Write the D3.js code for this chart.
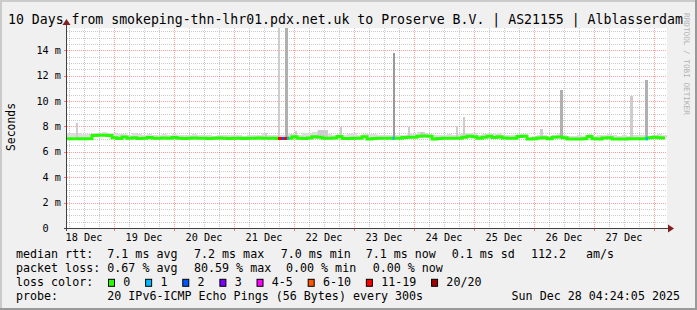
<!DOCTYPE html>
<html>
<head>
<meta charset="utf-8">
<script src="https://cdn.jsdelivr.net/npm/d3@7"></script>
<style>
  body { margin: 0; background: #fff; }
  svg { display: block; font-family: "DejaVu Sans Mono", monospace; }
</style>
</head>
<body>
<div class="chart"></div>
<script>
// ---- data ----
var title = "10 Days from smokeping-thn-lhr01.pdx.net.uk to Proserve B.V. | AS21155 | Alblasserdam";
var startTime = Date.UTC(2025, 11, 18, 5, 12);
var endTime = Date.UTC(2025, 11, 28, 5, 12);
var binHours = 2;

// median rtt in ms, one value per 2 hour bin
var medianMs = [
  7.02, 7.02, 7.02, 7.03, 7.03, 7.28, 7.30, 7.30, 7.28, 7.10,
  7.04, 7.16, 7.06, 7.10, 7.05, 7.06, 7.12, 7.06, 7.06, 7.08,
  7.06, 7.12, 7.06, 7.05, 7.06, 7.08, 7.06, 7.06, 7.05, 7.06,
  7.08, 7.06, 7.05, 7.06, 7.06, 7.05, 7.06, 7.06, 7.08, 7.06,
  7.06, 7.06, 7.05, 7.05, 7.06, 7.18, 7.06, 7.05, 7.08, 7.18,
  7.15, 7.06, 7.06, 7.08, 7.20, 7.04, 7.05, 7.06, 7.06, 7.18,
  7.00, 7.04, 7.06, 7.06, 7.06, 7.06, 7.06, 7.12, 7.14, 7.14,
  7.22, 7.24, 7.22, 7.00, 7.05, 7.06, 7.06, 7.06, 7.06, 7.14,
  7.22, 7.18, 7.06, 7.14, 7.22, 7.12, 7.18, 7.08, 7.06, 7.06,
  7.20, 7.22, 7.00, 7.02, 7.08, 7.10, 7.02, 7.14, 7.16, 7.10,
  7.01, 7.01, 7.01, 7.02, 7.20, 7.02, 7.01, 7.08, 7.10, 7.01,
  7.01, 7.01, 7.03, 7.03, 7.03, 7.03, 7.10, 7.14, 7.10, 7.08
];

// highest ping of the bin (smoke top), ms
var smokeHiMs = [
  7.45, 7.45, 7.45, 7.42, 7.40, 7.50, 7.50, 7.52, 7.50, 7.45,
  7.38, 7.42, 7.35, 7.45, 7.38, 7.35, 7.40, 7.30, 7.35, 7.40,
  7.30, 7.38, 7.30, 7.35, 7.32, 7.40, 7.30, 7.35, 7.30, 7.28,
  7.35, 7.30, 7.30, 7.32, 7.30, 7.28, 7.30, 7.35, 7.30, 7.48,
  7.30, 7.35, 7.30, 7.30, 7.40, 7.42, 7.35, 7.45, 7.50, 7.55,
  7.60, 7.45, 7.40, 7.35, 7.40, 7.35, 7.38, 7.45, 7.35, 7.40,
  7.40, 7.40, 7.30, 7.30, 7.35, 7.30, 7.30, 7.35, 7.45, 7.40,
  7.55, 7.45, 7.40, 7.30, 7.30, 7.30, 7.40, 7.35, 7.40, 7.45,
  7.50, 7.50, 7.35, 7.40, 7.45, 7.40, 7.45, 7.30, 7.32, 7.35,
  7.38, 7.40, 7.20, 7.28, 7.30, 7.35, 7.25, 7.30, 7.38, 7.30,
  7.25, 7.22, 7.30, 7.22, 7.40, 7.25, 7.30, 7.35, 7.40, 7.30,
  7.25, 7.30, 7.25, 7.30, 7.30, 7.30, 7.28, 7.35, 7.40, 7.30
];

// short bursts of slow pings: [start hour, end hour, top ms, pings]
var spikes = [
  [3.6, 4.4, 8.30, 1],
  [79.2, 80.0, 7.50, 1],
  [84.4, 85.2, 16.0, 1],
  [87.0, 88.2, 16.0, 2],
  [91.2, 92.0, 7.65, 1],
  [100.4, 104.4, 7.72, 1],
  [109.0, 110.0, 7.98, 1],
  [130.2, 131.0, 13.8, 3],
  [136.4, 137.2, 7.98, 1],
  [141.2, 143.2, 7.58, 1],
  [155.6, 156.4, 8.03, 1],
  [158.4, 159.2, 8.72, 1],
  [189.2, 190.4, 7.80, 1],
  [197.2, 198.4, 10.87, 2],
  [225.2, 226.4, 10.40, 1],
  [231.2, 232.4, 11.65, 2]
];

// packet loss: [start hour, end hour, lost pings of 20]
var lossEvents = [
  [84.4, 86.0, 16],
  [86.0, 86.8, 2],
  [86.8, 88.0, 14],
  [88.0, 88.8, 1],
  [130.2, 131.0, 1],
  [231.4, 232.4, 1]
];

var yTicks = [0, 2, 4, 6, 8, 10, 12, 14];
var lossLabels = ["0", "1", "2", "3", "4-5", "6-10", "11-19", "20/20"];
var lossColors = ["#26ff00", "#00b8ff", "#0059ff", "#7e00ff", "#ff00ff", "#ff5500", "#ff0000", "#a00000"];
var rttStats = ["7.1 ms avg", "7.2 ms max", "7.0 ms min", "7.1 ms now", "0.1 ms sd", "112.2", "am/s"];
var lossStats = ["0.67 % avg", "80.59 % max", "0.00 % min", "0.00 % now"];
var probeText = "20 IPv6-ICMP Echo Pings (56 Bytes) every 300s";
var stampText = "Sun Dec 28 04:24:05 2025";

// ---- layout ----
var W = 697, H = 310;
var plot = {left: 67, top: 28, width: 600, height: 200};

var svg = d3.select(".chart").append("svg")
  .attr("width", W)
  .attr("height", H);

// background + 3d frame
svg.append("rect").attr("width", W).attr("height", H).attr("fill", "#f0f0f0");
svg.append("rect").attr("x", 0).attr("y", 0).attr("width", W).attr("height", 2).attr("fill", "#cbcbcb");
svg.append("rect").attr("x", 0).attr("y", 0).attr("width", 2).attr("height", H).attr("fill", "#cbcbcb");
svg.append("rect").attr("x", 0).attr("y", H - 2).attr("width", W).attr("height", 2).attr("fill", "#999");
svg.append("rect").attr("x", W - 2).attr("y", 0).attr("width", 2).attr("height", H).attr("fill", "#999");

svg.append("rect")
  .attr("x", plot.left).attr("y", plot.top)
  .attr("width", plot.width).attr("height", plot.height)
  .attr("fill", "#fff");

var xScale = d3.scaleUtc()
  .domain([new Date(startTime), new Date(endTime)])
  .range([plot.left, plot.left + plot.width]);

var yScale = d3.scaleLinear()
  .domain([0, plot.height / 12.7])
  .range([plot.top + plot.height, plot.top]);

function hourToDate(h) { return new Date(startTime + h * 3600e3); }
function xh(h) { return xScale(hourToDate(h)); }
function medianAt(h) { return medianMs[Math.min(medianMs.length - 1, Math.floor(h / binHours))]; }

// grid
var grid = svg.append("g").attr("class", "grid");
var minorY = d3.range(0.5, yScale.domain()[1], 0.5).filter(function(v){ return v % 2 !== 0; });
var majorY = yTicks.filter(function(v){ return v > 0; });
var minorX = xScale.ticks(d3.utcHour.every(6)).filter(function(d){ return d.getUTCHours() !== 0; });
var majorX = xScale.ticks(d3.utcDay.every(1));

grid.selectAll("line.hmin").data(minorY).enter().append("line")
  .attr("x1", plot.left).attr("x2", plot.left + plot.width)
  .attr("y1", function(d){ return Math.round(yScale(d)) + 0.5; })
  .attr("y2", function(d){ return Math.round(yScale(d)) + 0.5; })
  .attr("stroke", "rgba(140,140,140,0.45)").attr("stroke-dasharray", "1,1");
grid.selectAll("line.vmin").data(minorX).enter().append("line")
  .attr("y1", plot.top).attr("y2", plot.top + plot.height)
  .attr("x1", function(d){ return Math.round(xScale(d)) + 0.5; })
  .attr("x2", function(d){ return Math.round(xScale(d)) + 0.5; })
  .attr("stroke", "rgba(140,140,140,0.45)").attr("stroke-dasharray", "1,1");
grid.selectAll("line.hmaj").data(majorY).enter().append("line")
  .attr("x1", plot.left).attr("x2", plot.left + plot.width)
  .attr("y1", function(d){ return Math.round(yScale(d)) + 0.5; })
  .attr("y2", function(d){ return Math.round(yScale(d)) + 0.5; })
  .attr("stroke", "rgba(255,0,0,0.38)").attr("stroke-dasharray", "1,1");
grid.selectAll("line.vmaj").data(majorX).enter().append("line")
  .attr("y1", plot.top).attr("y2", plot.top + plot.height)
  .attr("x1", function(d){ return Math.round(xScale(d)) + 0.5; })
  .attr("x2", function(d){ return Math.round(xScale(d)) + 0.5; })
  .attr("stroke", "rgba(255,0,0,0.38)").attr("stroke-dasharray", "1,1");

// smoke
var plotArea = svg.append("g");
plotArea.selectAll("rect.smoke").data(medianMs).enter().append("rect")
  .attr("x", function(d, i){ return xh(i * binHours); })
  .attr("width", function(d, i){ return xh((i + 1) * binHours) - xh(i * binHours); })
  .attr("y", function(d, i){ return yScale(smokeHiMs[i]); })
  .attr("height", function(d, i){ return yScale(d) - yScale(smokeHiMs[i]); })
  .attr("fill", "#dcdcdc")
  .attr("shape-rendering", "crispEdges");

var spikeShade = ["#ffffff", "#cdcdcd", "#b0b0b0", "#9a9a9a"];
plotArea.selectAll("rect.spike").data(spikes).enter().append("rect")
  .attr("x", function(d){ return xh(d[0]); })
  .attr("width", function(d){ return xh(d[1]) - xh(d[0]); })
  .attr("y", function(d){ return Math.max(plot.top, yScale(d[2])); })
  .attr("height", function(d){ return yScale(medianAt(d[0])) - Math.max(plot.top, yScale(d[2])); })
  .attr("fill", function(d){ return spikeShade[d[3]]; })
  .attr("shape-rendering", "crispEdges");

// median line coloured by loss
var stepLine = d3.line()
  .x(function(d){ return xh(d[0]); })
  .y(function(d){ return yScale(d[1]); })
  .curve(d3.curveStepAfter);

var medPts = medianMs.map(function(v, i){ return [i * binHours, v]; });
medPts.push([medianMs.length * binHours - 0.8, medianMs[medianMs.length - 1]]);

plotArea.append("path")
  .attr("d", stepLine(medPts))
  .attr("fill", "none")
  .attr("stroke", lossColors[0])
  .attr("stroke-width", 3);

function lossClass(n) {
  if (n <= 3) return n;
  if (n <= 5) return 4;
  if (n <= 10) return 5;
  if (n <= 19) return 6;
  return 7;
}
plotArea.selectAll("line.loss").data(lossEvents).enter().append("line")
  .attr("x1", function(d){ return xh(d[0]); })
  .attr("x2", function(d){ return xh(d[1]); })
  .attr("y1", function(d){ return yScale(medianAt(d[0])); })
  .attr("y2", function(d){ return yScale(medianAt(d[0])); })
  .attr("stroke", function(d){ return lossColors[lossClass(d[2])]; })
  .attr("stroke-width", 3);

// axes
var axisCol = "#404040", arrowCol = "#7f1f1f";
var y0 = plot.top + plot.height;
svg.append("line").attr("x1", plot.left - 3).attr("x2", plot.left + plot.width + 2)
  .attr("y1", y0 + 0.5).attr("y2", y0 + 0.5).attr("stroke", axisCol);
svg.append("line").attr("x1", plot.left - 0.5).attr("x2", plot.left - 0.5)
  .attr("y1", y0 + 3).attr("y2", plot.top - 4).attr("stroke", axisCol);
svg.append("path")
  .attr("d", "M" + (plot.left + plot.width + 1) + "," + (y0 - 3.5) + "l6,4l-6,4z")
  .attr("fill", arrowCol);
svg.append("path")
  .attr("d", "M" + (plot.left - 4.5) + "," + (plot.top - 3) + "l4,-6l4,6z")
  .attr("fill", arrowCol);

// axis ticks
svg.selectAll("line.xtmaj").data(majorX).enter().append("line")
  .attr("x1", function(d){ return Math.round(xScale(d)) + 0.5; })
  .attr("x2", function(d){ return Math.round(xScale(d)) + 0.5; })
  .attr("y1", y0 + 1).attr("y2", y0 + 3)
  .attr("stroke", "rgba(255,0,0,0.5)");
svg.selectAll("line.ytmaj").data(majorY).enter().append("line")
  .attr("x1", plot.left - 3).attr("x2", plot.left)
  .attr("y1", function(d){ return Math.round(yScale(d)) + 0.5; })
  .attr("y2", function(d){ return Math.round(yScale(d)) + 0.5; })
  .attr("stroke", "rgba(255,0,0,0.5)");

// tick labels
svg.selectAll("text.ylab").data(yTicks).enter().append("text")
  .attr("x", 61)
  .attr("y", function(d){ return yScale(d); })
  .attr("dy", "0.36em")
  .attr("text-anchor", "end")
  .attr("font-size", "10.2px")
  .attr("fill", "#000")
  .text(function(d){ return d === 0 ? "0\u00a0\u00a0" : d + " m"; });

var labelDays = d3.utcDay.range(d3.utcDay.floor(new Date(startTime)), new Date(endTime))
  .filter(function(d){ return +d + 12 * 3600e3 > startTime && +d + 12 * 3600e3 < endTime; });
var fmt = d3.utcFormat("%d %b");
svg.selectAll("text.xlab").data(labelDays).enter().append("text")
  .attr("x", function(d){ return xScale(new Date(+d + 12 * 3600e3)); })
  .attr("y", 241)
  .attr("text-anchor", "middle")
  .attr("font-size", "10.2px")
  .text(function(d){ return fmt(d); });

// titles
svg.append("text").attr("x", 8).attr("y", 23.5)
  .attr("font-size", "13.2px").text(title);

svg.append("text")
  .attr("transform", "translate(15,127) rotate(-90)")
  .attr("text-anchor", "middle")
  .attr("font-size", "11.4px")
  .text("Seconds");

svg.append("text")
  .attr("transform", "translate(684,13) rotate(90)")
  .attr("font-size", "7.7px")
  .attr("fill", "#b0b0b0")
  .text("RRDTOOL / TOBI OETIKER");

// legend
var leg = svg.append("g").attr("font-size", "11.66px").style("white-space", "pre");
var lineY = [258.4, 272.1, 285.8, 299.5];

leg.append("text").attr("x", 16).attr("y", lineY[0]).text("median rtt:");
var rttX = [107.3, 194, 280.7, 365.7, 451.7, 531, 586];
leg.selectAll("text.rtt").data(rttStats).enter().append("text")
  .attr("x", function(d, i){ return rttX[i]; }).attr("y", lineY[0]).text(function(d){ return d; });

leg.append("text").attr("x", 16).attr("y", lineY[1]).text("packet loss:");
var lossX = [107.3, 194, 286, 372.7];
leg.selectAll("text.pl").data(lossStats).enter().append("text")
  .attr("x", function(d, i){ return lossX[i]; }).attr("y", lineY[1]).text(function(d){ return d; });

leg.append("text").attr("x", 16).attr("y", lineY[2]).text("loss color:");
var cx = 108.5;
lossLabels.forEach(function(lab, i){
  leg.append("rect")
    .attr("x", cx).attr("y", lineY[2] - 6.5)
    .attr("width", 6).attr("height", 7)
    .attr("fill", lossColors[i]).attr("stroke", "#000");
  var t = leg.append("text").attr("x", cx + 14.8).attr("y", lineY[2]).text(lab);
  cx = cx + 14.8 + t.node().getComputedTextLength() + 15.3;
});

leg.append("text").attr("x", 16).attr("y", lineY[3]).text("probe:");
leg.append("text").attr("x", 107.3).attr("y", lineY[3]).text(probeText);
leg.append("text").attr("x", 680).attr("y", lineY[3]).attr("text-anchor", "end").text(stampText);
</script>
</body>
</html>
